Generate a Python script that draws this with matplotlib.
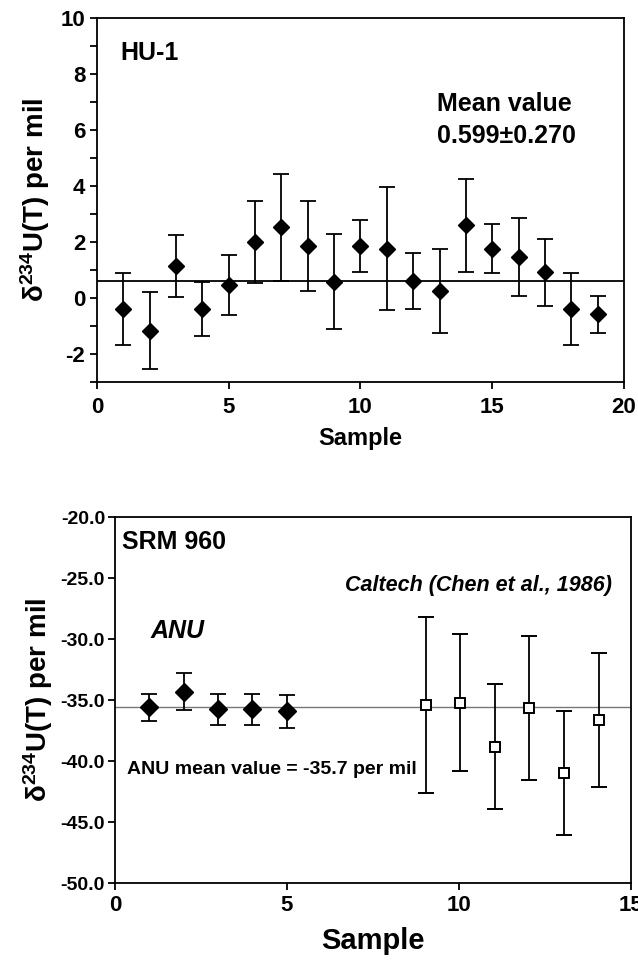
import numpy as np
import matplotlib
matplotlib.use('Agg')
import matplotlib.pyplot as plt
from matplotlib.ticker import MultipleLocator

plt.rcParams['font.family'] = ['Liberation Sans', 'DejaVu Sans']
plt.rcParams['font.weight'] = 'bold'
plt.rcParams['mathtext.fontset'] = 'custom'
plt.rcParams['mathtext.rm'] = 'Liberation Sans:bold'
plt.rcParams['mathtext.bf'] = 'Liberation Sans:bold'
plt.rcParams['mathtext.default'] = 'bf'
plt.rcParams['axes.unicode_minus'] = False

# HU-1 data
hu_sample = list(range(1, 20))
hu_value = [-0.39, -1.16, 1.15, -0.39, 0.46, 2.0, 2.53, 1.86, 0.58, 1.86,
            1.76, 0.62, 0.24, 2.6, 1.76, 1.47, 0.93, -0.39, -0.57]
hu_err = [1.27, 1.37, 1.1, 0.97, 1.08, 1.47, 1.92, 1.6, 1.7, 0.93,
          2.2, 1.0, 1.5, 1.65, 0.88, 1.38, 1.2, 1.3, 0.66]
hu_mean = 0.599

# SRM 960 data
anu_sample = [1, 2, 3, 4, 5]
anu_value = [-35.56, -34.3, -35.75, -35.75, -35.9]
anu_err = [1.1, 1.5, 1.25, 1.25, 1.35]
cal_sample = [9.03, 10.04, 11.05, 12.05, 13.06, 14.07]
cal_value = [-35.37, -35.2, -38.8, -35.6, -40.94, -36.65]
cal_err = [7.2, 5.6, 5.1, 5.9, 5.1, 5.5]
srm_mean = -35.56

ylab = r'$\delta^{234}$U(T) per mil'

fig = plt.figure(figsize=(6.38, 9.6), dpi=100)

# ---- top panel ----
ax1 = fig.add_axes([0.152, 0.602, 0.826, 0.379])
ax1.errorbar(hu_sample, hu_value, yerr=hu_err, fmt='D', color='black',
             markersize=8.5, capsize=6, elinewidth=1.3, capthick=1.3, zorder=3)
ax1.axhline(hu_mean, color='black', lw=1.3, zorder=2)
ax1.set_xlim(0, 20)
ax1.set_ylim(-3, 10)
ax1.xaxis.set_major_locator(MultipleLocator(5))
ax1.yaxis.set_minor_locator(MultipleLocator(1))
ax1.set_yticks([-2, 0, 2, 4, 6, 8, 10])
ax1.tick_params(axis='both', which='both', direction='out', width=1.3)
ax1.tick_params(axis='both', which='major', length=5, labelsize=16)
ax1.tick_params(axis='x', pad=6)
ax1.tick_params(axis='y', which='minor', length=5)
for s in ax1.spines.values():
    s.set_linewidth(1.3)
ax1.set_xlabel('Sample', fontsize=17, fontweight='bold', labelpad=6)
ax1.set_ylabel(ylab, fontsize=20, fontweight='bold', labelpad=6)
ax1.text(0.9, 8.5, 'HU-1', fontsize=18, fontweight='bold')
ax1.text(12.9, 6.7, 'Mean value', fontsize=18, fontweight='bold')
ax1.text(12.9, 5.55, '0.599\u00b10.270', fontsize=18, fontweight='bold')

# ---- bottom panel ----
ax2 = fig.add_axes([0.180, 0.080, 0.809, 0.381])
ax2.errorbar(anu_sample, anu_value, yerr=anu_err, fmt='D', color='black',
             markersize=9, capsize=6, elinewidth=1.3, capthick=1.3, zorder=3)
ax2.errorbar(cal_sample, cal_value, yerr=cal_err, fmt='s', color='black',
             mfc='white', mec='black', mew=1.4, markersize=7.5, capsize=6,
             elinewidth=1.3, capthick=1.3, zorder=3)
ax2.axhline(srm_mean, color='#777777', lw=1.0, zorder=2)
ax2.set_xlim(0, 15)
ax2.set_ylim(-50, -20)
ax2.xaxis.set_major_locator(MultipleLocator(5))
ax2.yaxis.set_major_locator(MultipleLocator(5))
ax2.yaxis.set_major_formatter(lambda v, p: '%.1f' % v)
ax2.tick_params(axis='both', which='major', direction='out', length=5,
                width=1.3)
ax2.tick_params(axis='y', labelsize=14, pad=2)
ax2.tick_params(axis='x', labelsize=16)
for s in ax2.spines.values():
    s.set_linewidth(1.3)
ax2.set_xlabel('Sample', fontsize=21, fontweight='bold', labelpad=8)
ax2.set_ylabel(ylab, fontsize=20, fontweight='bold', labelpad=4)
ax2.text(0.22, -22.0, 'SRM 960', fontsize=18, fontweight='bold', va='center')
ax2.text(6.7, -25.6, 'Caltech (Chen et al., 1986)', fontsize=15.5,
         fontweight='bold', fontstyle='italic', va='center')
ax2.text(1.05, -29.3, 'ANU', fontsize=18, fontweight='bold',
         fontstyle='italic', va='center')
ax2.text(0.35, -40.7, 'ANU mean value = -35.7 per mil', fontsize=14,
         fontweight='bold', va='center')

fig.savefig('out.png', dpi=100)
